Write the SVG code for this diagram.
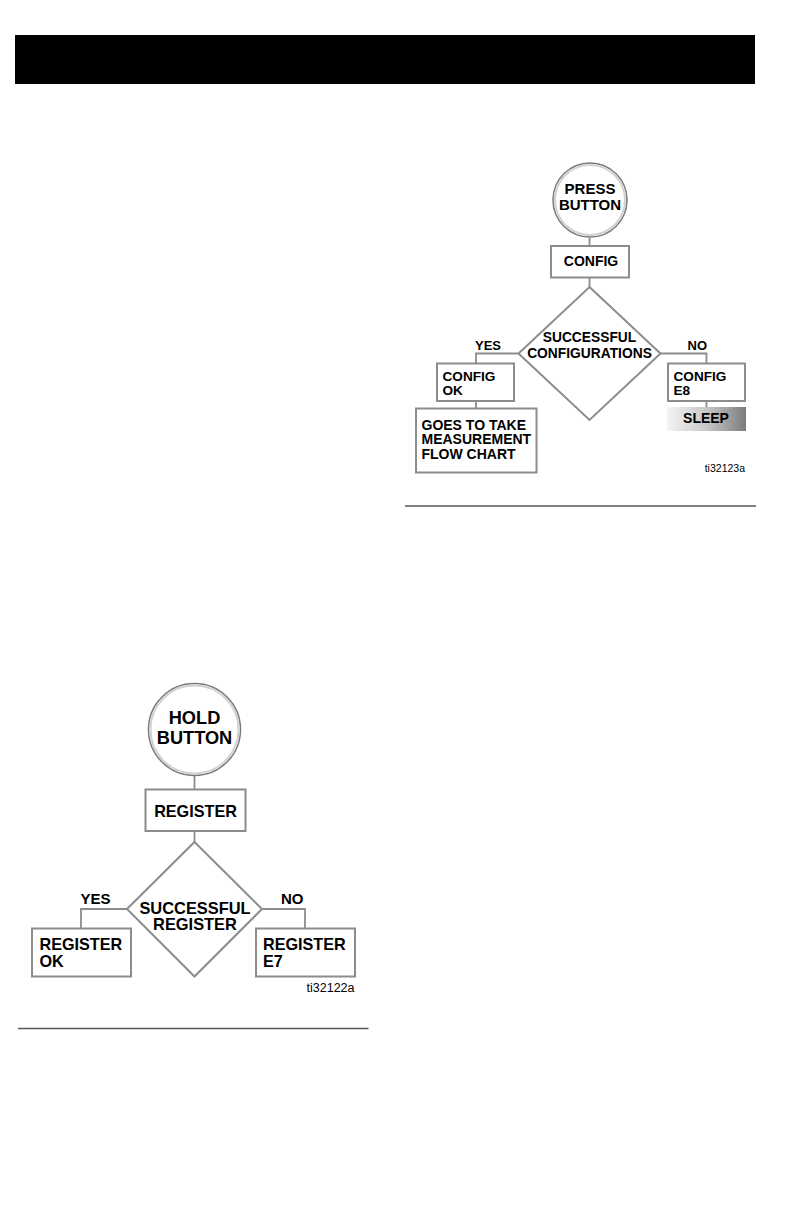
<svg xmlns="http://www.w3.org/2000/svg" width="792" height="1224" viewBox="0 0 792 1224">
<defs>
<style>
.t{font-family:"Liberation Sans",Arial,sans-serif;font-weight:bold;fill:#000}
.box{fill:#fff;stroke:#8c8c8c;stroke-width:2}
.ln{fill:none;stroke:#8c8c8c;stroke-width:1.8}
.ring{fill:#fff;stroke:#7a7a7a;stroke-width:1.5}
.ring2{fill:none;stroke:#d2d2d2;stroke-width:2}
.lab{font-family:"Liberation Sans",Arial,sans-serif;fill:#000}
.rule{stroke:#555;stroke-width:1.3}
</style>
<linearGradient id="sleepg" x1="0" y1="0" x2="1" y2="0">
<stop offset="0" stop-color="#f4f4f4"/>
<stop offset="0.5" stop-color="#c8c8c8"/>
<stop offset="1" stop-color="#7c7c7c"/>
</linearGradient>
</defs>
<rect width="792" height="1224" fill="#fff"/>
<rect x="15" y="35" width="740" height="49" fill="#000"/>

<g id="connectors">
<line class="ln" x1="589.5" y1="238" x2="589.5" y2="246"/>
<line class="ln" x1="589.5" y1="278" x2="589.5" y2="287"/>
<polyline class="ln" points="518.5,353.5 476,353.5 476,363"/>
<line class="ln" x1="476" y1="401" x2="476" y2="408.5"/>
<polyline class="ln" points="660.5,353.5 706.5,353.5 706.5,363"/>
<line class="ln" x1="706.5" y1="401" x2="706.5" y2="407"/>
<line class="ln" x1="194.5" y1="776" x2="194.5" y2="789.5"/>
<line class="ln" x1="194.5" y1="831" x2="194.5" y2="842"/>
<polyline class="ln" points="127,909 81,909 81,928.5"/>
<polyline class="ln" points="262,909 305,909 305,928.5"/>
</g>

<g id="press-button">
<circle class="ring" cx="590" cy="200" r="37"/>
<circle class="ring2" cx="590" cy="200" r="35"/>
<text class="t" font-size="15" text-anchor="middle" x="590" y="193.5">PRESS</text>
<text class="t" font-size="15" text-anchor="middle" x="590" y="209.5">BUTTON</text>
</g>
<g id="config">
<rect class="box" x="551" y="246" width="78" height="31.5"/>
<text class="t" font-size="14" text-anchor="middle" x="591" y="266">CONFIG</text>
</g>
<g id="successful-config">
<polygon class="box" points="589.5,287 660.5,353.5 589.5,420 518.5,353.5"/>
<text class="t" font-size="13.8" text-anchor="middle" x="589.5" y="342">SUCCESSFUL</text>
<text class="t" font-size="13.8" text-anchor="middle" x="589.5" y="358">CONFIGURATIONS</text>
</g>
<text class="t" font-size="13" x="475" y="350">YES</text>
<text class="t" font-size="13" x="687.5" y="350">NO</text>
<g id="config-ok">
<rect class="box" x="437" y="363.5" width="77" height="37.5"/>
<text class="t" font-size="13.6" x="442.5" y="380.5">CONFIG</text>
<text class="t" font-size="13.6" x="442.5" y="395">OK</text>
</g>
<g id="goes-to">
<rect class="box" x="416" y="408.5" width="120.5" height="64"/>
<text class="t" font-size="14" x="421.5" y="429.5">GOES TO TAKE</text>
<text class="t" font-size="14" x="421.5" y="444">MEASUREMENT</text>
<text class="t" font-size="14" x="421.5" y="459">FLOW CHART</text>
</g>
<g id="config-e8">
<rect class="box" x="668" y="363.5" width="77" height="37.5"/>
<text class="t" font-size="13.6" x="673.5" y="380.5">CONFIG</text>
<text class="t" font-size="13.6" x="673.5" y="395">E8</text>
</g>
<g id="sleep">
<rect x="667" y="407" width="79" height="24" fill="url(#sleepg)"/>
<text class="t" font-size="14" text-anchor="middle" x="706" y="423">SLEEP</text>
</g>
<text class="lab" font-size="10.5" text-anchor="end" x="745" y="472">ti32123a</text>
<line class="rule" x1="405" y1="506" x2="756" y2="506"/>

<g id="hold-button">
<circle class="ring" cx="194.5" cy="729.5" r="46"/>
<circle class="ring2" cx="194.5" cy="729.5" r="44"/>
<text class="t" font-size="18.2" text-anchor="middle" x="194.5" y="723.5">HOLD</text>
<text class="t" font-size="18.2" text-anchor="middle" x="194.5" y="743.5">BUTTON</text>
</g>
<g id="register">
<rect class="box" x="145.5" y="789.5" width="100" height="41.5"/>
<text class="t" font-size="16.2" text-anchor="middle" x="195.5" y="817">REGISTER</text>
</g>
<g id="successful-register">
<polygon class="box" points="194.5,842 262,909 194.5,976.5 127,909"/>
<text class="t" font-size="16.4" text-anchor="middle" x="195" y="913.5">SUCCESSFUL</text>
<text class="t" font-size="16.4" text-anchor="middle" x="195" y="930">REGISTER</text>
</g>
<text class="t" font-size="15" x="80.5" y="904">YES</text>
<text class="t" font-size="15" x="281" y="904">NO</text>
<g id="register-ok">
<rect class="box" x="32" y="928.5" width="99" height="48"/>
<text class="t" font-size="16.2" x="39.5" y="950">REGISTER</text>
<text class="t" font-size="16.2" x="39.5" y="966.5">OK</text>
</g>
<g id="register-e7">
<rect class="box" x="256" y="928.5" width="99" height="48"/>
<text class="t" font-size="16.2" x="263" y="950">REGISTER</text>
<text class="t" font-size="16.2" x="263" y="966.5">E7</text>
</g>
<text class="lab" font-size="12.5" text-anchor="end" x="354.5" y="991.5">ti32122a</text>
<line class="rule" x1="18" y1="1028.5" x2="368.5" y2="1028.5"/>
</svg>
